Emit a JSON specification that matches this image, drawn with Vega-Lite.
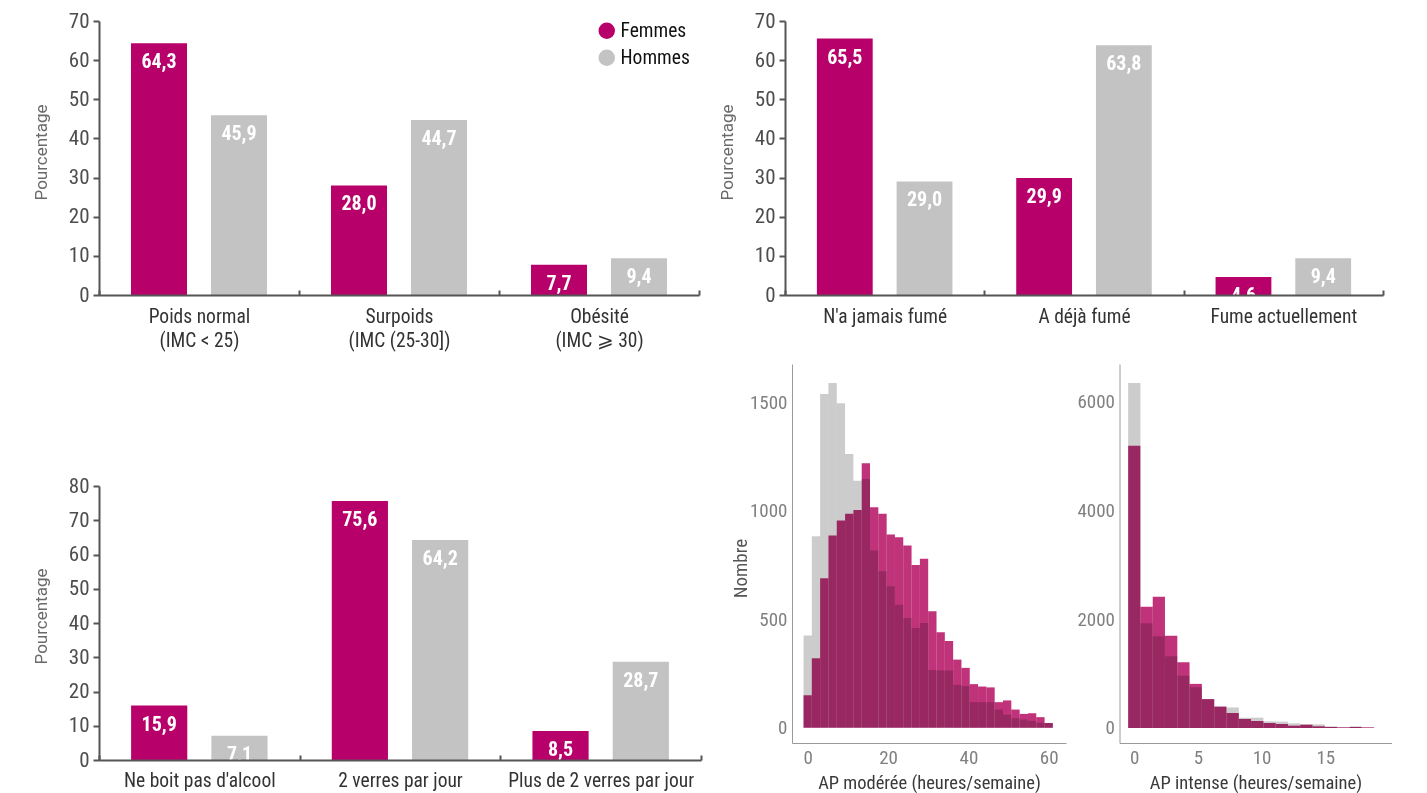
{
  "$schema": "https://vega.github.io/schema/vega-lite/v6.json",
  "background": "white",
  "padding": {"left": 32, "top": 10, "right": 5, "bottom": 5},
  "config": {
    "locale": {"number": {"decimal": ",", "thousands": " ", "grouping": [3], "currency": ["", " €"]}},
    "view": {"stroke": null},
    "font": "'Roboto Condensed', 'Liberation Sans Narrow', Roboto, sans-serif",
    "axis": {"grid": false, "labelFont": "'Roboto Condensed', 'Liberation Sans Narrow', Roboto, sans-serif", "titleFont": "'Roboto Condensed', 'Liberation Sans Narrow', Roboto, sans-serif", "labelLimit": 400},
    "legend": {"labelFont": "'Roboto Condensed', 'Liberation Sans Narrow', Roboto, sans-serif"}
  },
  "datasets": {
    "imc": [
      {"categorie": "Poids normal (IMC < 25)", "sexe": "Femmes", "pct": 64.3},
      {"categorie": "Poids normal (IMC < 25)", "sexe": "Hommes", "pct": 45.9},
      {"categorie": "Surpoids (IMC (25-30])", "sexe": "Femmes", "pct": 28.0},
      {"categorie": "Surpoids (IMC (25-30])", "sexe": "Hommes", "pct": 44.7},
      {"categorie": "Obésité (IMC ⩾ 30)", "sexe": "Femmes", "pct": 7.7},
      {"categorie": "Obésité (IMC ⩾ 30)", "sexe": "Hommes", "pct": 9.4}
    ],
    "tabac": [
      {"categorie": "N'a jamais fumé", "sexe": "Femmes", "pct": 65.5},
      {"categorie": "N'a jamais fumé", "sexe": "Hommes", "pct": 29.0},
      {"categorie": "A déjà fumé", "sexe": "Femmes", "pct": 29.9},
      {"categorie": "A déjà fumé", "sexe": "Hommes", "pct": 63.8},
      {"categorie": "Fume actuellement", "sexe": "Femmes", "pct": 4.6},
      {"categorie": "Fume actuellement", "sexe": "Hommes", "pct": 9.4}
    ],
    "alcool": [
      {"categorie": "Ne boit pas d'alcool", "sexe": "Femmes", "pct": 15.9},
      {"categorie": "Ne boit pas d'alcool", "sexe": "Hommes", "pct": 7.1},
      {"categorie": "2 verres par jour", "sexe": "Femmes", "pct": 75.6},
      {"categorie": "2 verres par jour", "sexe": "Hommes", "pct": 64.2},
      {"categorie": "Plus de 2 verres par jour", "sexe": "Femmes", "pct": 8.5},
      {"categorie": "Plus de 2 verres par jour", "sexe": "Hommes", "pct": 28.7}
    ],
    "moderee": [
      {"debut": -1.03, "fin": 1.03, "sexe": "Hommes", "nombre": 425}, {"debut": -1.03, "fin": 1.03, "sexe": "Femmes", "nombre": 150},
      {"debut": 1.03, "fin": 3.10, "sexe": "Hommes", "nombre": 882}, {"debut": 1.03, "fin": 3.10, "sexe": "Femmes", "nombre": 320},
      {"debut": 3.10, "fin": 5.17, "sexe": "Hommes", "nombre": 1537}, {"debut": 3.10, "fin": 5.17, "sexe": "Femmes", "nombre": 689},
      {"debut": 5.17, "fin": 7.24, "sexe": "Hommes", "nombre": 1587}, {"debut": 5.17, "fin": 7.24, "sexe": "Femmes", "nombre": 885},
      {"debut": 7.24, "fin": 9.31, "sexe": "Hommes", "nombre": 1494}, {"debut": 7.24, "fin": 9.31, "sexe": "Femmes", "nombre": 954},
      {"debut": 9.31, "fin": 11.38, "sexe": "Hommes", "nombre": 1261}, {"debut": 9.31, "fin": 11.38, "sexe": "Femmes", "nombre": 985},
      {"debut": 11.38, "fin": 13.45, "sexe": "Hommes", "nombre": 1138}, {"debut": 11.38, "fin": 13.45, "sexe": "Femmes", "nombre": 1003},
      {"debut": 13.45, "fin": 15.52, "sexe": "Hommes", "nombre": 1146}, {"debut": 13.45, "fin": 15.52, "sexe": "Femmes", "nombre": 1218},
      {"debut": 15.52, "fin": 17.59, "sexe": "Hommes", "nombre": 816}, {"debut": 15.52, "fin": 17.59, "sexe": "Femmes", "nombre": 1015},
      {"debut": 17.59, "fin": 19.66, "sexe": "Hommes", "nombre": 721}, {"debut": 17.59, "fin": 19.66, "sexe": "Femmes", "nombre": 985},
      {"debut": 19.66, "fin": 21.72, "sexe": "Hommes", "nombre": 652}, {"debut": 19.66, "fin": 21.72, "sexe": "Femmes", "nombre": 890},
      {"debut": 21.72, "fin": 23.79, "sexe": "Hommes", "nombre": 567}, {"debut": 21.72, "fin": 23.79, "sexe": "Femmes", "nombre": 877},
      {"debut": 23.79, "fin": 25.86, "sexe": "Hommes", "nombre": 505}, {"debut": 23.79, "fin": 25.86, "sexe": "Femmes", "nombre": 839},
      {"debut": 25.86, "fin": 27.93, "sexe": "Hommes", "nombre": 459}, {"debut": 25.86, "fin": 27.93, "sexe": "Femmes", "nombre": 750},
      {"debut": 27.93, "fin": 30.00, "sexe": "Hommes", "nombre": 482}, {"debut": 27.93, "fin": 30.00, "sexe": "Femmes", "nombre": 778},
      {"debut": 30.00, "fin": 32.07, "sexe": "Hommes", "nombre": 266}, {"debut": 30.00, "fin": 32.07, "sexe": "Femmes", "nombre": 537},
      {"debut": 32.07, "fin": 34.14, "sexe": "Hommes", "nombre": 264}, {"debut": 32.07, "fin": 34.14, "sexe": "Femmes", "nombre": 440},
      {"debut": 34.14, "fin": 36.21, "sexe": "Hommes", "nombre": 264}, {"debut": 34.14, "fin": 36.21, "sexe": "Femmes", "nombre": 400},
      {"debut": 36.21, "fin": 38.28, "sexe": "Hommes", "nombre": 198}, {"debut": 36.21, "fin": 38.28, "sexe": "Femmes", "nombre": 314},
      {"debut": 38.28, "fin": 40.34, "sexe": "Hommes", "nombre": 192}, {"debut": 38.28, "fin": 40.34, "sexe": "Femmes", "nombre": 276},
      {"debut": 40.34, "fin": 42.41, "sexe": "Hommes", "nombre": 118}, {"debut": 40.34, "fin": 42.41, "sexe": "Femmes", "nombre": 201},
      {"debut": 42.41, "fin": 44.48, "sexe": "Hommes", "nombre": 118}, {"debut": 42.41, "fin": 44.48, "sexe": "Femmes", "nombre": 190},
      {"debut": 44.48, "fin": 46.55, "sexe": "Hommes", "nombre": 118}, {"debut": 44.48, "fin": 46.55, "sexe": "Femmes", "nombre": 186},
      {"debut": 46.55, "fin": 48.62, "sexe": "Hommes", "nombre": 84}, {"debut": 46.55, "fin": 48.62, "sexe": "Femmes", "nombre": 118},
      {"debut": 48.62, "fin": 50.69, "sexe": "Hommes", "nombre": 60}, {"debut": 48.62, "fin": 50.69, "sexe": "Femmes", "nombre": 126},
      {"debut": 50.69, "fin": 52.76, "sexe": "Hommes", "nombre": 44}, {"debut": 50.69, "fin": 52.76, "sexe": "Femmes", "nombre": 84},
      {"debut": 52.76, "fin": 54.83, "sexe": "Hommes", "nombre": 38}, {"debut": 52.76, "fin": 54.83, "sexe": "Femmes", "nombre": 64},
      {"debut": 54.83, "fin": 56.90, "sexe": "Hommes", "nombre": 32}, {"debut": 54.83, "fin": 56.90, "sexe": "Femmes", "nombre": 67},
      {"debut": 56.90, "fin": 58.97, "sexe": "Hommes", "nombre": 23}, {"debut": 56.90, "fin": 58.97, "sexe": "Femmes", "nombre": 49},
      {"debut": 58.97, "fin": 61.03, "sexe": "Hommes", "nombre": 22}, {"debut": 58.97, "fin": 61.03, "sexe": "Femmes", "nombre": 22}
    ],
    "intense": [
      {"debut": -0.48, "fin": 0.48, "sexe": "Hommes", "nombre": 6348}, {"debut": -0.48, "fin": 0.48, "sexe": "Femmes", "nombre": 5195},
      {"debut": 0.48, "fin": 1.45, "sexe": "Hommes", "nombre": 1926}, {"debut": 0.48, "fin": 1.45, "sexe": "Femmes", "nombre": 2232},
      {"debut": 1.45, "fin": 2.41, "sexe": "Hommes", "nombre": 1687}, {"debut": 1.45, "fin": 2.41, "sexe": "Femmes", "nombre": 2416},
      {"debut": 2.41, "fin": 3.38, "sexe": "Hommes", "nombre": 1319}, {"debut": 2.41, "fin": 3.38, "sexe": "Femmes", "nombre": 1699},
      {"debut": 3.38, "fin": 4.34, "sexe": "Hommes", "nombre": 963}, {"debut": 3.38, "fin": 4.34, "sexe": "Femmes", "nombre": 1208},
      {"debut": 4.34, "fin": 5.31, "sexe": "Hommes", "nombre": 750}, {"debut": 4.34, "fin": 5.31, "sexe": "Femmes", "nombre": 812},
      {"debut": 5.31, "fin": 6.28, "sexe": "Hommes", "nombre": 530}, {"debut": 5.31, "fin": 6.28, "sexe": "Femmes", "nombre": 532},
      {"debut": 6.28, "fin": 7.24, "sexe": "Hommes", "nombre": 392}, {"debut": 6.28, "fin": 7.24, "sexe": "Femmes", "nombre": 394},
      {"debut": 7.24, "fin": 8.21, "sexe": "Hommes", "nombre": 378}, {"debut": 7.24, "fin": 8.21, "sexe": "Femmes", "nombre": 276},
      {"debut": 8.21, "fin": 9.17, "sexe": "Hommes", "nombre": 190}, {"debut": 8.21, "fin": 9.17, "sexe": "Femmes", "nombre": 166},
      {"debut": 9.17, "fin": 10.14, "sexe": "Hommes", "nombre": 190}, {"debut": 9.17, "fin": 10.14, "sexe": "Femmes", "nombre": 129},
      {"debut": 10.14, "fin": 11.10, "sexe": "Hommes", "nombre": 123}, {"debut": 10.14, "fin": 11.10, "sexe": "Femmes", "nombre": 92},
      {"debut": 11.10, "fin": 12.07, "sexe": "Hommes", "nombre": 117}, {"debut": 11.10, "fin": 12.07, "sexe": "Femmes", "nombre": 74},
      {"debut": 12.07, "fin": 13.03, "sexe": "Hommes", "nombre": 86}, {"debut": 12.07, "fin": 13.03, "sexe": "Femmes", "nombre": 43},
      {"debut": 13.03, "fin": 14.00, "sexe": "Hommes", "nombre": 67}, {"debut": 13.03, "fin": 14.00, "sexe": "Femmes", "nombre": 61},
      {"debut": 14.00, "fin": 14.97, "sexe": "Hommes", "nombre": 67}, {"debut": 14.00, "fin": 14.97, "sexe": "Femmes", "nombre": 31},
      {"debut": 14.97, "fin": 15.93, "sexe": "Hommes", "nombre": 31}, {"debut": 14.97, "fin": 15.93, "sexe": "Femmes", "nombre": 18},
      {"debut": 15.93, "fin": 16.90, "sexe": "Hommes", "nombre": 12}, {"debut": 15.93, "fin": 16.90, "sexe": "Femmes", "nombre": 12},
      {"debut": 16.90, "fin": 17.86, "sexe": "Hommes", "nombre": 31}, {"debut": 16.90, "fin": 17.86, "sexe": "Femmes", "nombre": 18},
      {"debut": 17.86, "fin": 18.83, "sexe": "Hommes", "nombre": 5}, {"debut": 17.86, "fin": 18.83, "sexe": "Femmes", "nombre": 12}
    ]
  },
  "resolve": {"scale": {"color": "independent", "x": "independent", "y": "independent"}, "legend": {"color": "independent"}},
  "spacing": 14,
  "vconcat": [
    {
      "spacing": 18,
      "resolve": {"scale": {"color": "independent", "x": "independent", "y": "independent", "xOffset": "independent"}, "legend": {"color": "independent"}},
      "hconcat": [
        {
          "width": 600, "height": 274,
          "data": {"name": "imc"},
          "encoding": {
            "x": {"field": "categorie", "type": "nominal", "sort": null, "scale": {"paddingInner": 0, "paddingOuter": 0},
              "axis": {"title": null, "labelAngle": 0, "labelExpr": "indexof(datum.label, ' (') > 0 ? [slice(datum.label, 0, indexof(datum.label, ' (')), slice(datum.label, indexof(datum.label, ' (') + 1)] : datum.label", "labelFontSize": 19.5, "labelColor": "#333333", "labelLineHeight": 24, "labelPadding": 17, "domainColor": "#555555", "domainWidth": 2, "tickBand": "extent", "tickSize": -5, "tickColor": "#555555", "tickWidth": 2, "zindex": 1}},
            "xOffset": {"field": "sexe", "type": "nominal", "sort": ["Femmes", "Hommes"], "scale": {"paddingInner": 0.3, "paddingOuter": 0.4}},
            "y": {"field": "pct", "type": "quantitative", "scale": {"domain": [0, 70], "nice": false},
              "axis": {"title": "Pourcentage", "values": [0, 10, 20, 30, 40, 50, 60, 70], "titleFont": "Roboto", "titleFontSize": 17, "titleFontWeight": "normal", "titleColor": "#6a6a6a", "titleX": -53, "titleY": 131, "titleBaseline": "alphabetic", "labelFontSize": 21, "labelColor": "#4d4d4d", "labelPadding": 4, "tickSize": 6, "tickWidth": 2, "tickColor": "#555555", "domainColor": "#555555", "domainWidth": 2, "zindex": 1}}
          },
          "layer": [
            {"mark": {"type": "bar"},
              "encoding": {"color": {"field": "sexe", "type": "nominal", "scale": {"domain": ["Femmes", "Hommes"], "range": ["#b8006b", "#c3c3c3"]},
                "legend": {"title": null, "orient": "none", "legendX": 498, "legendY": 0, "symbolType": "circle", "symbolSize": 270, "symbolStrokeWidth": 0, "labelFontSize": 19.5, "labelColor": "#111111", "labelOffset": 4, "rowPadding": 6, "padding": 0}}}},
            {"mark": {"type": "text", "baseline": "top", "dy": 9, "color": "white", "fontSize": 20, "fontWeight": "bold"},
              "encoding": {"text": {"field": "pct", "type": "quantitative", "format": ".1f"}}}
          ]
        },
        {
          "width": 598, "height": 274,
          "data": {"name": "tabac"},
          "encoding": {
            "x": {"field": "categorie", "type": "nominal", "sort": null, "scale": {"paddingInner": 0, "paddingOuter": 0},
              "axis": {"title": null, "labelAngle": 0, "labelFontSize": 19.5, "labelColor": "#333333", "labelPadding": 17, "domainColor": "#555555", "domainWidth": 2, "tickBand": "extent", "tickSize": -5, "tickColor": "#555555", "tickWidth": 2, "zindex": 1}},
            "xOffset": {"field": "sexe", "type": "nominal", "sort": ["Femmes", "Hommes"], "scale": {"paddingInner": 0.3, "paddingOuter": 0.4}},
            "y": {"field": "pct", "type": "quantitative", "scale": {"domain": [0, 70], "nice": false},
              "axis": {"title": "Pourcentage", "values": [0, 10, 20, 30, 40, 50, 60, 70], "titleFont": "Roboto", "titleFontSize": 17, "titleFontWeight": "normal", "titleColor": "#6a6a6a", "titleX": -53, "titleY": 131, "titleBaseline": "alphabetic", "labelFontSize": 21, "labelColor": "#4d4d4d", "labelPadding": 4, "tickSize": 6, "tickWidth": 2, "tickColor": "#555555", "domainColor": "#555555", "domainWidth": 2, "zindex": 1}}
          },
          "layer": [
            {"mark": {"type": "bar"},
              "encoding": {"color": {"field": "sexe", "type": "nominal", "scale": {"domain": ["Femmes", "Hommes"], "range": ["#b8006b", "#c3c3c3"]}, "legend": null}}},
            {"mark": {"type": "text", "baseline": "top", "dy": 9, "color": "white", "fontSize": 20, "fontWeight": "bold"},
              "encoding": {"text": {"field": "pct", "type": "quantitative", "format": ".1f"}}}
          ]
        }
      ]
    },
    {
      "spacing": 29,
      "resolve": {"scale": {"color": "independent", "x": "independent", "y": "independent", "xOffset": "independent"}, "legend": {"color": "independent"}},
      "hconcat": [
        {
          "width": 602, "height": 396,
          "data": {"name": "alcool"},
          "encoding": {
            "x": {"field": "categorie", "type": "nominal", "sort": null, "scale": {"paddingInner": 0, "paddingOuter": 0},
              "axis": {"title": null, "labelAngle": 0, "labelFontSize": 19.5, "labelColor": "#333333", "labelPadding": 16, "domainColor": "#555555", "domainWidth": 2, "tickBand": "extent", "tickSize": -5, "tickColor": "#555555", "tickWidth": 2, "zindex": 1}},
            "xOffset": {"field": "sexe", "type": "nominal", "sort": ["Femmes", "Hommes"], "scale": {"paddingInner": 0.3, "paddingOuter": 0.4}},
            "y": {"field": "pct", "type": "quantitative", "scale": {"domain": [0, 80], "nice": false, "range": [396, 122]},
              "axis": {"title": "Pourcentage", "values": [0, 10, 20, 30, 40, 50, 60, 70, 80], "titleFont": "Roboto", "titleFontSize": 17, "titleFontWeight": "normal", "titleColor": "#6a6a6a", "titleX": -53, "titleY": 252, "titleBaseline": "alphabetic", "labelFontSize": 21, "labelColor": "#4d4d4d", "labelPadding": 4, "tickSize": 6, "tickWidth": 2, "tickColor": "#555555", "domainColor": "#555555", "domainWidth": 2, "zindex": 1}}
          },
          "layer": [
            {"mark": {"type": "bar"},
              "encoding": {"color": {"field": "sexe", "type": "nominal", "scale": {"domain": ["Femmes", "Hommes"], "range": ["#b8006b", "#c3c3c3"]}, "legend": null}}},
            {"mark": {"type": "text", "baseline": "top", "dy": 9, "color": "white", "fontSize": 20, "fontWeight": "bold"},
              "encoding": {"text": {"field": "pct", "type": "quantitative", "format": ".1f"}}}
          ]
        },
        {
          "spacing": 10.5,
          "hconcat": [
            {
              "width": 274, "height": 379,
              "data": {"name": "moderee"},
              "mark": {"type": "bar", "blend": "multiply"},
              "encoding": {
                "x": {"field": "debut", "type": "quantitative", "scale": {"domain": [-3.9, 64.3], "nice": false, "zero": false},
                  "axis": {"title": "AP modérée (heures/semaine)", "values": [0, 20, 40, 60], "format": "d", "ticks": false, "labelFontSize": 19, "labelColor": "#808080", "labelPadding": 5, "titleFontSize": 18.5, "titleFontWeight": "normal", "titleColor": "#3a3a3a", "titlePadding": 6, "domainColor": "#9a9a9a", "domainWidth": 1}},
                "x2": {"field": "fin"},
                "y": {"field": "nombre", "type": "quantitative", "scale": {"domain": [-70, 1675], "nice": false, "zero": false},
                  "axis": {"title": "Nombre", "values": [0, 500, 1000, 1500], "format": "d", "ticks": false, "labelFontSize": 19, "labelColor": "#808080", "labelPadding": 5, "titleFontSize": 19, "titleFontWeight": "normal", "titleColor": "#555555", "titleX": -46, "titleY": 204, "titleBaseline": "alphabetic", "domainColor": "#9a9a9a", "domainWidth": 1}},
                "y2": {"datum": 0},
                "color": {"field": "sexe", "type": "nominal", "scale": {"domain": ["Femmes", "Hommes"], "range": ["#c0327a", "#cccccc"]}, "legend": null}
              }
            },
            {
              "width": 272, "height": 379,
              "data": {"name": "intense"},
              "mark": {"type": "bar", "blend": "multiply"},
              "encoding": {
                "x": {"field": "debut", "type": "quantitative", "scale": {"domain": [-1.16, 20.2], "nice": false, "zero": false},
                  "axis": {"title": "AP intense (heures/semaine)", "values": [0, 5, 10, 15], "format": "d", "ticks": false, "labelFontSize": 19, "labelColor": "#808080", "labelPadding": 5, "titleFontSize": 18.5, "titleFontWeight": "normal", "titleColor": "#3a3a3a", "titlePadding": 6, "domainColor": "#9a9a9a", "domainWidth": 1}},
                "x2": {"field": "fin"},
                "y": {"field": "nombre", "type": "quantitative", "scale": {"domain": [-276, 6697], "nice": false, "zero": false},
                  "axis": {"title": null, "values": [0, 2000, 4000, 6000], "format": "d", "ticks": false, "labelFontSize": 19, "labelColor": "#808080", "labelPadding": 5, "domainColor": "#9a9a9a", "domainWidth": 1}},
                "y2": {"datum": 0},
                "color": {"field": "sexe", "type": "nominal", "scale": {"domain": ["Femmes", "Hommes"], "range": ["#c0327a", "#cccccc"]}, "legend": null}
              }
            }
          ]
        }
      ]
    }
  ]
}
